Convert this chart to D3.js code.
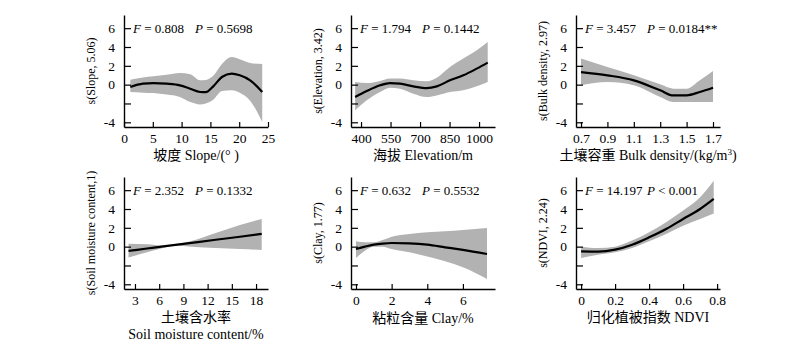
<!DOCTYPE html>
<html>
<head>
<meta charset="utf-8">
<script src="https://cdn.jsdelivr.net/npm/d3@7"></script>
<style>
  body { margin: 0; background: #fff; }
  svg text { font-family: "Liberation Serif", "Times New Roman", "Noto Sans CJK SC", serif; fill: #000; }
</style>
</head>
<body>
<svg width="800" height="348"></svg>
<script>
// ---- data ----
// slope
var slopeX     = [1.1, 3.3, 5.1, 7.4, 9.7, 11.5, 13.2, 14.2, 15.5, 17.0, 18.7, 20.1, 21.9, 24.0];
var slopeFit   = [-0.25, 0.1, 0.17, 0.1, -0.07, -0.43, -0.78, -0.8, -0.18, 0.81, 1.17, 0.99, 0.46, -0.78];
var slopeUp    = [0.53, 0.75, 0.88, 1.05, 1.24, 1.1, 0.46, 0.5, 0.95, 2.2, 2.94, 2.7, 2.3, 2.2];
var slopeLo    = [-0.78, -0.85, -0.89, -1.05, -1.3, -1.85, -2.1, -2.0, -1.6, -0.68, -0.6, -0.85, -1.7, -3.98];
// elevation
var elevX      = [370, 429, 497, 547, 598, 666, 734, 785, 852, 920, 988, 1044];
var elevFit    = [-1.32, -0.68, -0.07, 0.17, 0.1, -0.18, -0.36, -0.18, 0.46, 0.99, 1.7, 2.34];
var elevUp     = [0.28, 0.17, 0.39, 0.64, 0.64, 0.46, 0.35, 0.74, 1.87, 2.77, 3.65, 4.53];
var elevLo     = [-2.73, -1.67, -0.78, -0.32, -0.43, -0.96, -1.32, -1.14, -0.78, -0.6, -0.18, 0.28];
// bulk density
var bulkX      = [0.7, 0.9, 1.1, 1.3, 1.4, 1.5, 1.6, 1.7];
var bulkFit    = [1.34, 0.99, 0.46, -0.6, -1.15, -1.14, -0.78, -0.32];
var bulkUp     = [2.77, 1.87, 0.99, 0.03, -0.43, -0.43, 0.46, 1.45];
var bulkLo     = [-0.07, 0.28, -0.07, -1.32, -1.85, -1.85, -1.85, -1.85];
// soil moisture
var moistX     = [2.2, 4.5, 6.5, 8, 10, 13, 16, 18.7];
var moistFit   = [-0.45, -0.2, 0.02, 0.18, 0.4, 0.73, 1.05, 1.35];
var moistUp    = [0.3, 0.25, 0.1, 0.25, 0.6, 1.45, 2.3, 2.95];
var moistLo    = [-1.15, -0.6, -0.15, 0.1, 0.0, -0.15, -0.25, -0.35];
// clay
var clayX      = [0, 0.5, 1, 1.5, 2, 3, 4, 5, 6, 7.35];
var clayFit    = [-0.25, 0.0, 0.21, 0.33, 0.39, 0.35, 0.21, -0.07, -0.35, -0.78];
var clayUp     = [0.57, 0.46, 0.46, 0.7, 1.06, 1.35, 1.53, 1.63, 1.77, 1.99];
var clayLo     = [-1.2, -0.43, 0.0, 0.0, -0.25, -0.6, -1.06, -1.56, -2.2, -3.44];
// NDVI
var ndviX      = [0, 0.1, 0.2, 0.3, 0.4, 0.5, 0.6, 0.7, 0.78];
var ndviFit    = [-0.5, -0.53, -0.32, 0.21, 0.99, 1.88, 2.94, 4.0, 5.07];
var ndviUp     = [0, -0.14, 0, 0.64, 1.53, 2.6, 3.83, 5.25, 7.0];
var ndviLo     = [-1.2, -0.85, -0.6, -0.14, 0.57, 1.35, 2.23, 2.94, 3.51];

// ticks and labels
var yTicks = [-4, -2, 0, 2, 4, 6];
var slopeTicks = [0, 5, 10, 15, 20, 25];
var elevTicks = [400, 550, 700, 850, 1000];
var bulkTicks = [0.7, 0.9, 1.1, 1.3, 1.5, 1.7];
var moistTicks = [3, 6, 9, 12, 15, 18];
var clayTicks = [0, 2, 4, 6];
var ndviTicks = [0, 0.2, 0.4, 0.6, 0.8];

var yTitles = ["s(Slope, 5.06)", "s(Elevation, 3.42)", "s(Bulk density, 2.97)",
               "s(Soil moisture content,1)", "s(Clay, 1.77)", "s(NDVI, 2.24)"];
var fTexts = ["0.808", "1.794", "3.457", "2.352", "0.632", "14.197"];
var pTexts = ["= 0.5698", "= 0.1442", "= 0.0184**", "= 0.1332", "= 0.5532", "< 0.001"];

var panels = [
  {x: slopeX, fit: slopeFit, up: slopeUp, lo: slopeLo, dom: [0, 25], ticks: slopeTicks, fmt: d3.format("d")},
  {x: elevX, fit: elevFit, up: elevUp, lo: elevLo, dom: [349, 1081], ticks: elevTicks, fmt: d3.format("d")},
  {x: bulkX, fit: bulkFit, up: bulkUp, lo: bulkLo, dom: [0.662, 1.753], ticks: bulkTicks, fmt: d3.format(".1f")},
  {x: moistX, fit: moistFit, up: moistUp, lo: moistLo, dom: [1.64, 19.48], ticks: moistTicks, fmt: d3.format("d")},
  {x: clayX, fit: clayFit, up: clayUp, lo: clayLo, dom: [-0.28, 7.8], ticks: clayTicks, fmt: d3.format("d")},
  {x: ndviX, fit: ndviFit, up: ndviUp, lo: ndviLo, dom: [-0.03, 0.817], ticks: ndviTicks, fmt: function(d) { return d === 0 ? "0" : d3.format(".1f")(d); }}
];

var svg = d3.select("svg"),
    lefts = [124, 351, 576],
    tops = [15, 177],
    w = 144,
    h = 112,
    serif = "'Liberation Serif', 'Times New Roman', serif";

panels.forEach(function(p, i) {
  var col = i % 3, row = Math.floor(i / 3);
  var g = svg.append("g")
      .attr("transform", "translate(" + lefts[col] + "," + tops[row] + ")");

  var x = d3.scaleLinear().domain(p.dom).range([0, w]);
  var y = d3.scaleLinear().domain([-4.5, 7.4]).range([h, 0]);

  var rows = p.x.map(function(v, k) {
    return {x: v, fit: p.fit[k], up: p.up[k], lo: p.lo[k]};
  });

  // confidence band
  g.append("path")
    .datum(rows)
    .attr("fill", "#b2b2b2")
    .attr("d", d3.area()
      .curve(d3.curveMonotoneX)
      .x(function(d) { return x(d.x); })
      .y0(function(d) { return y(d.lo); })
      .y1(function(d) { return y(d.up); }));

  // smooth term
  g.append("path")
    .datum(rows)
    .attr("fill", "none")
    .attr("stroke", "#000")
    .attr("stroke-width", 2.2)
    .attr("d", d3.line()
      .curve(d3.curveMonotoneX)
      .x(function(d) { return x(d.x); })
      .y(function(d) { return y(d.fit); }));

  // axes
  var xa = g.append("g")
      .attr("transform", "translate(0," + h + ")")
      .call(d3.axisBottom(x).tickValues(p.ticks).tickFormat(p.fmt)
        .tickSizeInner(-5).tickSizeOuter(0).tickPadding(6));
  var ya = g.append("g")
      .call(d3.axisLeft(y).tickValues(yTicks)
        .tickFormat(function(d) { return d === -2 ? "" : d; })
        .tickSizeInner(-7).tickSizeOuter(0).tickPadding(9));
  [xa, ya].forEach(function(a) {
    a.attr("font-size", 13.5).attr("font-family", serif);
    a.selectAll("text").attr("fill", "#000");
    a.selectAll("line").attr("stroke-width", 1.2);
    a.select(".domain").attr("stroke-width", 1.4);
  });

  // y title
  g.append("text")
    .attr("transform", "translate(-29," + (h / 2) + ") rotate(-90)")
    .attr("text-anchor", "middle")
    .style("font-size", "12px")
    .text(yTitles[i]);

  // statistics
  var st = g.append("text")
    .attr("x", 9)
    .attr("y", y(6) + 4.5)
    .style("font-size", "13px");
  st.append("tspan").style("font-style", "italic").text("F");
  st.append("tspan").text(" = " + fTexts[i]);
  var st2 = g.append("text")
    .attr("x", 71)
    .attr("y", y(6) + 4.5)
    .style("font-size", "13px");
  st2.append("tspan").style("font-style", "italic").text("P");
  st2.append("tspan").text(" " + pTexts[i]);
});

// x titles
function xTitle(col, row, dy, txt) {
  return svg.append("text")
    .attr("x", lefts[col] + w / 2)
    .attr("y", tops[row] + h + 33 + dy)
    .attr("text-anchor", "middle")
    .style("font-size", "14px")
    .text(txt);
}
xTitle(0, 0, 0, "坡度 Slope/(° )");
xTitle(1, 0, 0, "海拔 Elevation/m");
var bd = xTitle(2, 0, 0, "土壤容重 Bulk density/(kg/m");
bd.append("tspan").attr("dy", -5).style("font-size", "9px").text("3");
bd.append("tspan").attr("dy", 5).text(")");
xTitle(0, 1, 0, "土壤含水率");
xTitle(0, 1, 17, "Soil moisture content/%");
xTitle(1, 1, 1, "粘粒含量 Clay/%");
xTitle(2, 1, 0, "归化植被指数 NDVI");
</script>
</body>
</html>
